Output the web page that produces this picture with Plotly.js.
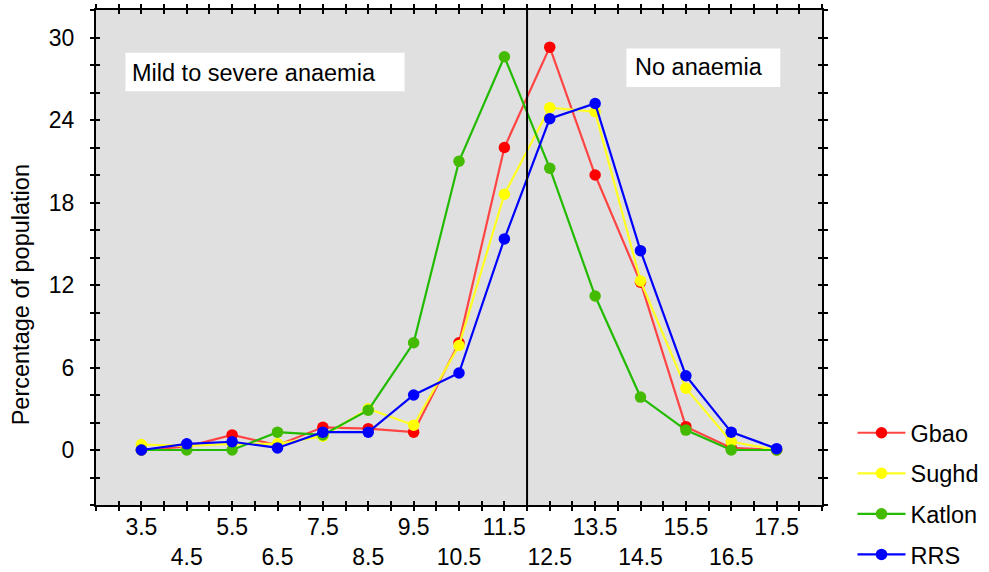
<!DOCTYPE html>
<html>
<head>
<meta charset="utf-8">
<script src="https://cdn.plot.ly/plotly-3.0.1.min.js"></script>
<style>html,body{margin:0;padding:0;background:#fff;}#chart{width:989px;height:572px;}</style>
</head>
<body>
<div id="chart"></div>
<script>
// Haemoglobin class midpoints (g/dL)
const categories = [3.5, 4.5, 5.5, 6.5, 7.5, 8.5, 9.5, 10.5, 11.5, 12.5, 13.5, 14.5, 15.5, 16.5, 17.5];
const tickLabels = ['3.5', '<br>4.5', '5.5', '<br>6.5', '7.5', '<br>8.5', '9.5', '<br>10.5', '11.5', '<br>12.5', '13.5', '<br>14.5', '15.5', '<br>16.5', '17.5'];
// Percentage of population per class
const gbao   = [0, 0.25, 1.1, 0.35, 1.65, 1.55, 1.3, 7.8, 22.0, 29.3, 20.0, 12.2, 1.7, 0.15, 0];
const sughd  = [0.4, 0.3, 0.45, 0.45, 1.0, 3.0, 1.8, 7.6, 18.6, 24.9, 24.6, 12.3, 4.5, 0.6, 0];
const katlon = [0, 0, 0, 1.3, 1.1, 2.9, 7.8, 21.0, 28.6, 20.5, 11.2, 3.85, 1.45, 0, 0];
const rrs    = [0, 0.45, 0.6, 0.15, 1.3, 1.3, 4.0, 5.6, 15.35, 24.1, 25.2, 14.5, 5.4, 1.3, 0.1];
const seriesNames = ['Gbao', 'Sughd', 'Katlon', 'RRS'];
const threshold = 12;
const xRange = [2.5, 18.5];
const yRange = [-4, 32];

const FONT = 'Liberation Sans, Arial, sans-serif';
const styles = [
  {line: '#ff4444', marker: '#ff0000'},
  {line: '#ffff22', marker: '#ffff00'},
  {line: '#22bb00', marker: '#44bb00'},
  {line: '#0000ff', marker: '#0000ff'}
];
const seriesData = [gbao, sughd, katlon, rrs];

const traces = seriesData.map((vals, i) => ({
  type: 'scatter', mode: 'lines+markers',
  x: categories, y: vals, name: seriesNames[i],
  legendgroup: 'g' + i,
  line: {color: styles[i].line, width: 2.2},
  marker: {color: styles[i].marker, size: 11.5}
}));
traces.push({type: 'scatter', x: [], y: [], xaxis: 'x2', yaxis: 'y2', showlegend: false, hoverinfo: 'skip'});

const tickCommon = {tickcolor: '#000', tickwidth: 2, ticklen: 4};
const layout = {
  width: 989, height: 572,
  margin: {l: 96, r: 167, t: 10, b: 67, autoexpand: false},
  paper_bgcolor: '#ffffff', plot_bgcolor: '#e0e0e0',
  font: {family: FONT, size: 22, color: '#000'},
  showlegend: true,
  legend: {
    x: 1.042, xanchor: 'left', y: 0.19, yanchor: 'top',
    font: {family: FONT, size: 23.5, color: '#000'},
    tracegroupgap: 7, itemwidth: 48, bgcolor: 'rgba(0,0,0,0)'
  },
  xaxis: Object.assign({
    range: xRange, tickmode: 'array', tickvals: categories, ticktext: tickLabels, tickangle: 0,
    ticks: 'outside', showline: true, linecolor: '#000', linewidth: 2, mirror: 'ticks',
    showgrid: false, zeroline: false, automargin: false, ticklabelstandoff: -4,
    tickfont: {family: FONT, size: 23, color: '#000'},
    minor: Object.assign({dtick: 0.5, tick0: 3, ticks: 'outside'}, tickCommon)
  }, tickCommon),
  yaxis: Object.assign({
    range: yRange, tick0: 0, dtick: 6,
    ticks: 'outside', showline: true, linecolor: '#000', linewidth: 2, mirror: 'ticks',
    showgrid: false, zeroline: false, automargin: false, ticklabelstandoff: 11,
    tickfont: {family: FONT, size: 23, color: '#000'},
    minor: Object.assign({dtick: 2, tick0: 0, ticks: 'outside'}, tickCommon)
  }, tickCommon),
  xaxis2: Object.assign({
    overlaying: 'x', anchor: 'y', range: xRange, tickmode: 'array', tickvals: categories,
    ticks: 'inside', mirror: 'ticks', showline: false, showticklabels: false, showgrid: false, zeroline: false,
    minor: Object.assign({dtick: 0.5, tick0: 3, ticks: 'inside'}, tickCommon)
  }, tickCommon),
  yaxis2: Object.assign({
    overlaying: 'y', anchor: 'x', range: yRange, tick0: 0, dtick: 6,
    ticks: 'inside', mirror: 'ticks', showline: false, showticklabels: false, showgrid: false, zeroline: false,
    minor: Object.assign({dtick: 2, tick0: 0, ticks: 'inside'}, tickCommon)
  }, tickCommon),
  shapes: [
    {type: 'rect', xref: 'x', yref: 'y', x0: 3.15, x1: 9.3, y0: 26.1, y1: 28.9, fillcolor: '#ffffff', line: {width: 0}, layer: 'below'},
    {type: 'rect', xref: 'x', yref: 'y', x0: 14.19, x1: 17.58, y0: 26.4, y1: 29.2, fillcolor: '#ffffff', line: {width: 0}, layer: 'below'},
    {type: 'line', xref: 'x', yref: 'paper', x0: threshold, x1: threshold, y0: 0, y1: 1, line: {color: '#000', width: 2}}
  ],
  annotations: [
    {xref: 'x', yref: 'y', x: 3.26, y: 27.45, xanchor: 'left', yanchor: 'middle', showarrow: false,
     text: 'Mild to severe anaemia', font: {family: FONT, size: 23.5, color: '#000'}},
    {xref: 'x', yref: 'y', x: 14.33, y: 27.85, xanchor: 'left', yanchor: 'middle', showarrow: false,
     text: 'No anaemia', font: {family: FONT, size: 23.5, color: '#000'}},
    {xref: 'paper', yref: 'paper', x: -0.103, y: 0.424, xanchor: 'center', yanchor: 'middle', showarrow: false,
     textangle: -90, text: 'Percentage of population', font: {family: FONT, size: 23.5, color: '#000'}}
  ]
};

Plotly.newPlot('chart', traces, layout, {displayModeBar: false, staticPlot: true});
</script>
</body>
</html>
